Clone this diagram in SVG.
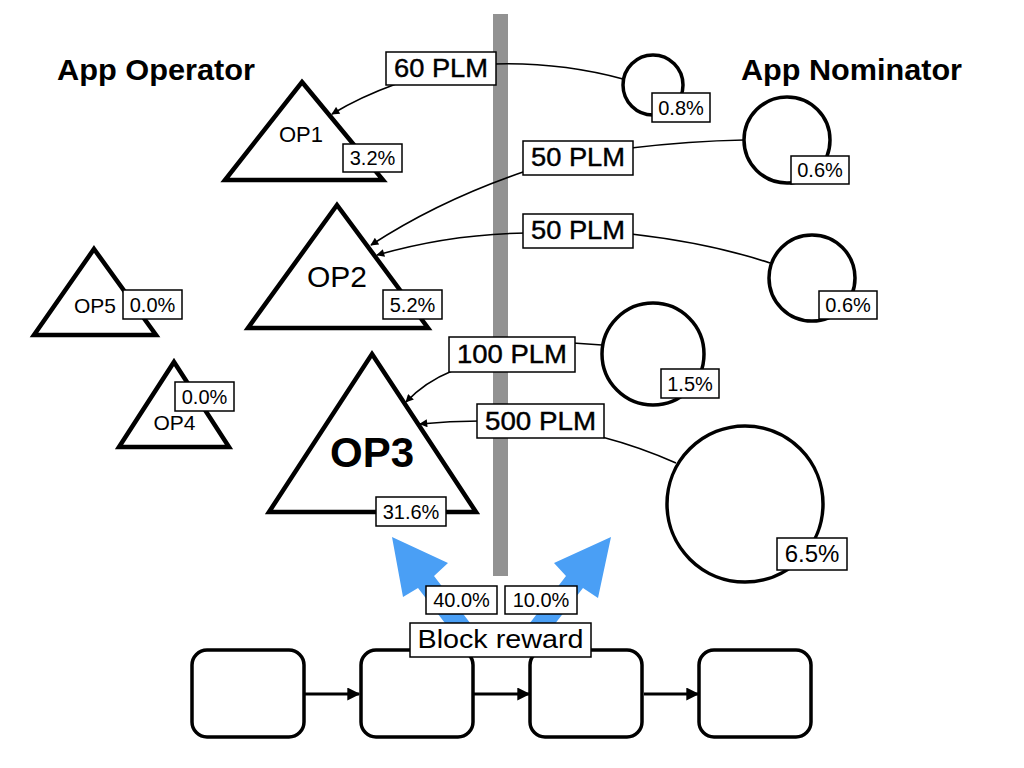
<svg xmlns="http://www.w3.org/2000/svg" width="1024" height="768" viewBox="0 0 1024 768">
<defs>
<marker id="ah" viewBox="0 0 10 10" refX="9" refY="5" markerWidth="10" markerHeight="8" markerUnits="userSpaceOnUse" orient="auto">
<path d="M0,0 L10,5 L0,10 Z" fill="#000"/>
</marker>
<marker id="bh" viewBox="0 0 10 10" refX="9" refY="5" markerWidth="14" markerHeight="13" markerUnits="userSpaceOnUse" orient="auto">
<path d="M0,0 L10,5 L0,10 Z" fill="#000"/>
</marker>
<style>
text{font-family:"Liberation Sans",Arial,sans-serif;fill:#000}
.hdr{font-size:30px;font-weight:bold}
.plm{font-size:25px;stroke:#000;stroke-width:0.4}
.pct{font-size:20px;text-anchor:middle}
.op{font-size:21px;text-anchor:middle}
.box{fill:#fff;stroke:#000;stroke-width:1.5}
.tri{fill:#fff;stroke:#000;stroke-width:4.5;stroke-linejoin:miter}
.cir{fill:#fff;stroke:#000;stroke-width:3.5}
.blk{fill:#fff;stroke:#000;stroke-width:3.5}
.con{fill:none;stroke:#000;stroke-width:1.6}
.chain{fill:none;stroke:#000;stroke-width:3}
.blue{fill:#4a9ff5}
</style>
</defs>
<rect width="1024" height="768" fill="#fff"/>

<text class="hdr" x="57" y="80" textLength="198" lengthAdjust="spacingAndGlyphs">App Operator</text>
<text class="hdr" x="741" y="80" textLength="221" lengthAdjust="spacingAndGlyphs">App Nominator</text>

<rect x="493" y="14" width="15" height="562" fill="#929292"/>

<g id="reward-arrows">
<path class="blue" d="M477,652 L487,645 L434,576 L448,563 L392,537 L403,597 L418,588 L471,657 Z"/>
<path class="blue" d="M523,652 L513,645 L566,576 L554,563 L611,537 L598,598 L583,588 L529,657 Z"/>
</g>

<g id="connectors">
<path class="con" d="M623,79 Q560,62 494,64"/>
<path class="con" d="M396,84 Q360,97 332,114" marker-end="url(#ah)"/>
<path class="con" d="M744,140 Q690,141 631,148"/>
<path class="con" d="M526,171 Q440,200 371,245" marker-end="url(#ah)"/>
<path class="con" d="M770,263 Q710,243 631,234"/>
<path class="con" d="M526,233 Q450,234 377,255" marker-end="url(#ah)"/>
<path class="con" d="M602,345 L573,343"/>
<path class="con" d="M452,371 Q425,382 406,402" marker-end="url(#ah)"/>
<path class="con" d="M676,463 Q640,447 602,437"/>
<path class="con" d="M480,421 Q450,421 420,424" marker-end="url(#ah)"/>
<path class="chain" d="M305,694 L359,694" marker-end="url(#bh)"/>
<path class="chain" d="M474,694 L529,694" marker-end="url(#bh)"/>
<path class="chain" d="M644,694 L698,694" marker-end="url(#bh)"/>
</g>

<g id="label-60plm"><rect class="box" x="386" y="52" width="110" height="33"/><text class="plm" x="441" y="77" text-anchor="middle" textLength="94" lengthAdjust="spacingAndGlyphs">60 PLM</text></g>
<g id="label-50plm-a"><rect class="box" x="523" y="141" width="110" height="34"/><text class="plm" x="578" y="166" text-anchor="middle" textLength="94" lengthAdjust="spacingAndGlyphs">50 PLM</text></g>
<g id="label-50plm-b"><rect class="box" x="523" y="214" width="110" height="34"/><text class="plm" x="578" y="239" text-anchor="middle" textLength="94" lengthAdjust="spacingAndGlyphs">50 PLM</text></g>
<g id="label-100plm"><rect class="box" x="449" y="337" width="126" height="35"/><text class="plm" x="512" y="363" text-anchor="middle" textLength="110" lengthAdjust="spacingAndGlyphs">100 PLM</text></g>
<g id="label-500plm"><rect class="box" x="477" y="404" width="127" height="34"/><text class="plm" x="540.5" y="430" text-anchor="middle" textLength="111" lengthAdjust="spacingAndGlyphs">500 PLM</text></g>

<g id="op1">
<polygon class="tri" points="302,82 383,180 225,180"/>
<text class="op" x="301" y="142" style="font-size:22px">OP1</text>
<rect class="box" x="343" y="144" width="59" height="28"/><text class="pct" x="372.5" y="165">3.2%</text>
</g>
<g id="op2">
<polygon class="tri" points="337,205 428,328 248,328"/>
<text class="op" x="337" y="287" style="font-size:30px">OP2</text>
<rect class="box" x="383" y="290" width="59" height="29"/><text class="pct" x="412.5" y="312">5.2%</text>
</g>
<g id="op5">
<polygon class="tri" points="94,249 156,335 34,335"/>
<text class="op" x="95" y="313">OP5</text>
<rect class="box" x="123" y="290" width="59" height="29"/><text class="pct" x="152.5" y="312">0.0%</text>
</g>
<g id="op4">
<polygon class="tri" points="174,362 229,447 119,447"/>
<text class="op" x="174.5" y="430">OP4</text>
<rect class="box" x="175" y="382" width="59" height="29"/><text class="pct" x="204.5" y="404">0.0%</text>
</g>
<g id="op3">
<polygon class="tri" points="372,354 476,512 269,512"/>
<text class="op" x="372" y="467" style="font-size:42px;font-weight:bold">OP3</text>
<rect class="box" x="376" y="497" width="70" height="29"/><text class="pct" x="411" y="519">31.6%</text>
</g>

<g id="nom1">
<circle class="cir" cx="653" cy="85" r="30"/>
<rect class="box" x="652" y="93" width="58" height="29"/><text class="pct" x="681" y="115">0.8%</text>
</g>
<g id="nom2">
<circle class="cir" cx="787" cy="140" r="43"/>
<rect class="box" x="791" y="156" width="58" height="28"/><text class="pct" x="820" y="177">0.6%</text>
</g>
<g id="nom3">
<circle class="cir" cx="812" cy="278" r="43"/>
<rect class="box" x="819" y="291" width="58" height="28"/><text class="pct" x="848" y="312">0.6%</text>
</g>
<g id="nom4">
<circle class="cir" cx="653" cy="354" r="51"/>
<rect class="box" x="661" y="369" width="58" height="29"/><text class="pct" x="690" y="391">1.5%</text>
</g>
<g id="nom5">
<circle class="cir" cx="745" cy="504" r="78"/>
<rect class="box" x="777" y="538" width="70" height="32"/><text class="pct" x="812" y="562" style="font-size:24px">6.5%</text>
</g>

<g id="pct-40"><rect class="box" x="426" y="586" width="71" height="28"/><text class="pct" x="461.5" y="607">40.0%</text></g>
<g id="pct-10"><rect class="box" x="505" y="586" width="72" height="28"/><text class="pct" x="541" y="607">10.0%</text></g>

<g id="block1"><rect class="blk" x="192" y="650" width="112" height="87" rx="15"/></g>
<g id="block2"><rect class="blk" x="361" y="650" width="112" height="87" rx="15"/></g>
<g id="block3"><rect class="blk" x="530" y="650" width="112" height="87" rx="15"/></g>
<g id="block4"><rect class="blk" x="699" y="650" width="112" height="87" rx="15"/></g>

<g id="block-reward"><rect class="box" x="410" y="623" width="181" height="34"/><text x="500.5" y="648" text-anchor="middle" style="font-size:26px" textLength="166" lengthAdjust="spacingAndGlyphs">Block reward</text></g>
</svg>
